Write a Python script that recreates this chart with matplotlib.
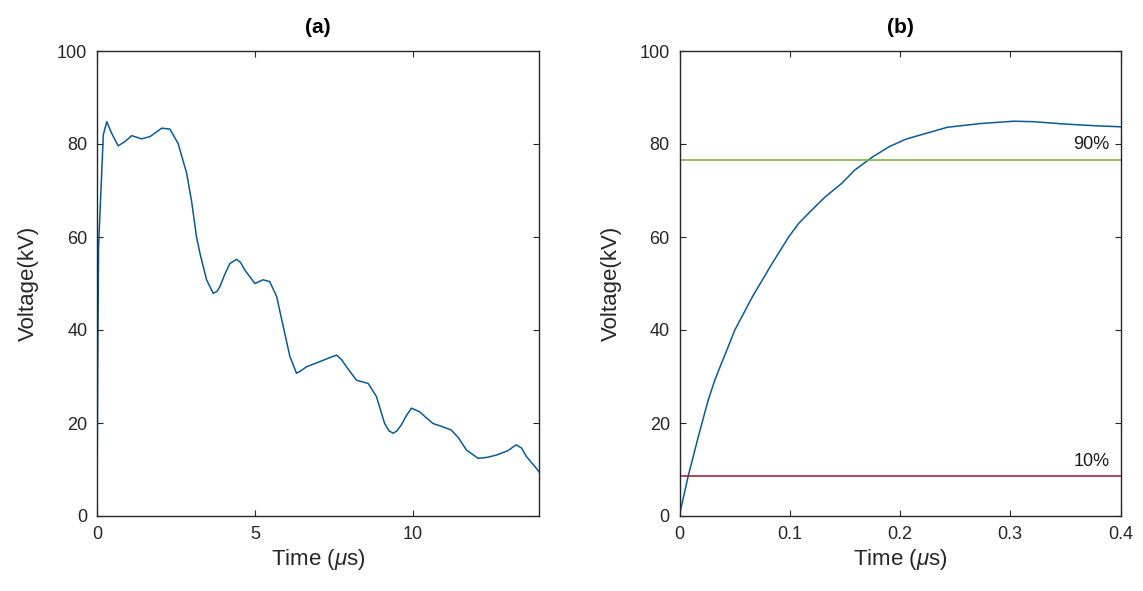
import numpy as np
import matplotlib
matplotlib.use('Agg')
import matplotlib.pyplot as plt

# panel (a): full waveform
t_a = [0, 0.02, 0.05, 0.1, 0.2, 0.31, 0.45, 0.67, 0.9, 1.1, 1.41, 1.68, 2.05, 2.31,
       2.57, 2.84, 3.0, 3.15, 3.26, 3.47, 3.68, 3.80, 3.89, 4.05, 4.21, 4.42, 4.55,
       4.68, 5.0, 5.26, 5.47, 5.69, 5.90, 6.11, 6.32, 6.45, 6.64, 7.06, 7.35, 7.59,
       7.75, 7.90, 8.22, 8.59, 8.85, 9.11, 9.25, 9.38, 9.5, 9.64, 9.8, 9.96, 10.22,
       10.4, 10.64, 10.9, 11.22, 11.45, 11.70, 12.07, 12.35, 12.65, 13.0, 13.28,
       13.45, 13.60, 13.91, 14.0]
v_a = [0, 30, 58, 66, 82, 84.8, 82.5, 79.6, 80.6, 81.8, 81.1, 81.6, 83.4, 83.2,
       80.1, 73.7, 67.5, 60.1, 56.5, 50.8, 47.9, 48.3, 49.3, 52.0, 54.3, 55.2, 54.5,
       52.9, 50.0, 50.8, 50.4, 47.2, 40.7, 34.3, 30.7, 31.2, 32.1, 33.2, 34.0, 34.6,
       33.6, 32.1, 29.2, 28.5, 25.7, 19.9, 18.3, 17.8, 18.3, 19.6, 21.6, 23.2, 22.4,
       21.3, 19.9, 19.3, 18.5, 16.8, 14.2, 12.4, 12.6, 13.1, 14.0, 15.3,
       14.6, 12.8, 10.3, 9.5]

# panel (b): front of the wave
t_b = [0, 0.0005, 0.008, 0.017, 0.026, 0.032, 0.038, 0.044, 0.050, 0.058, 0.066,
       0.075, 0.084, 0.099, 0.108, 0.12, 0.132, 0.147, 0.159, 0.175, 0.19, 0.205,
       0.212, 0.243, 0.273, 0.303, 0.321, 0.349, 0.379, 0.4]
v_b = [0.3, 0.8, 8.7, 17.0, 24.9, 29.2, 32.8, 36.3, 39.9, 43.5, 47.1,
       50.7, 54.3, 60.0, 62.9, 65.8, 68.6, 71.5, 74.4, 77.2, 79.4, 81.0,
       81.5, 83.6, 84.4, 84.9, 84.8, 84.3, 83.9, 83.7]

v_peak = 85.0
levels = [0.1, 0.9]
level_labels = ['10%', '90%']
level_colors = ['#A2142F', '#77AC30']

plt.rcParams['font.family'] = ['Liberation Sans', 'DejaVu Sans']
plt.rcParams['mathtext.fontset'] = 'custom'
plt.rcParams['mathtext.it'] = 'Liberation Sans:italic'
plt.rcParams['mathtext.rm'] = 'Liberation Sans'

axcol = '#262626'
fig = plt.figure(figsize=(11.43, 5.91), dpi=100)
ax1 = fig.add_axes([97/1143, 75/591, 442/1143, 465/591])
ax2 = fig.add_axes([679.5/1143, 75/591, 441/1143, 465/591])

line_col = '#0a5a96'
ax1.plot(t_a, v_a, color=line_col, lw=1.1)
ax1.set_xlim(0, 14)
ax1.set_xticks([0, 5, 10])
ax1.set_title('(a)', fontsize=15, fontweight='bold', pad=13)

ax2.plot(t_b, v_b, color=line_col, lw=1.1)
for lv, lab, col in zip(levels, level_labels, level_colors):
    ax2.axhline(lv * v_peak, color=col, lw=1.1)
    ax2.text(0.39, lv * v_peak + 1.5, lab, ha='right', va='bottom',
             fontsize=13, color='#1a1a1a')
ax2.set_xlim(0, 0.4)
ax2.set_xticks([0, 0.1, 0.2, 0.3, 0.4])
ax2.set_xticklabels(['0', '0.1', '0.2', '0.3', '0.4'])
ax2.set_title('(b)', fontsize=15, fontweight='bold', pad=13)

for ax in (ax1, ax2):
    ax.set_ylim(0, 100)
    ax.set_yticks([0, 20, 40, 60, 80, 100])
    ax.set_xlabel(r'Time ($\mu$s)', fontsize=16, color=axcol, labelpad=3)
    ax.set_ylabel('Voltage(kV)', fontsize=16, color=axcol, labelpad=13)
    ax.tick_params(direction='in', length=4, width=0.8, top=True, right=True,
                   labelsize=13, colors=axcol, pad=7)
    for s in ax.spines.values():
        s.set_color(axcol)
        s.set_linewidth(1.0)

fig.savefig('out.png', dpi=100)
